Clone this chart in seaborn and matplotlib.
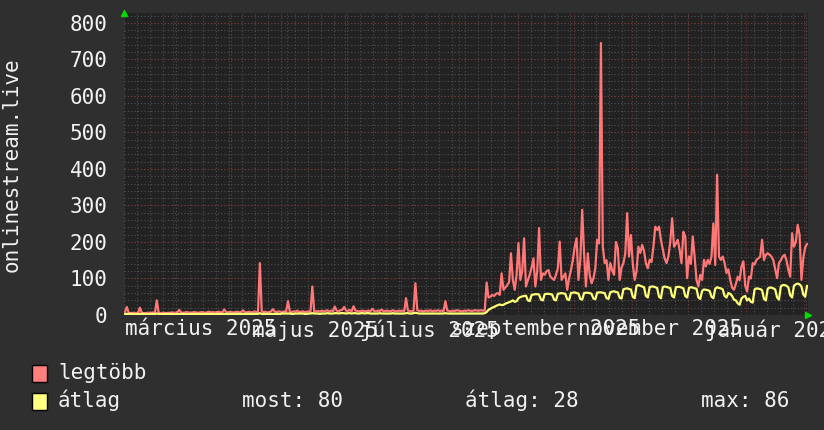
import matplotlib
matplotlib.use('Agg')
import matplotlib.pyplot as plt
from matplotlib.patches import Rectangle
import pandas as pd
import seaborn as sns

# napi értékek 2025-02-03-tól (hétfő), soronként egy hét
legtobb = [
    8, 22, 6, 5, 6, 6, 5,
    6, 20, 6, 5, 5, 6, 6,
    6, 7, 6, 40, 6, 5, 6,
    6, 5, 6, 6, 7, 6, 6,
    8, 14, 7, 6, 7, 8, 7,
    6, 7, 8, 7, 6, 7, 8,
    7, 6, 8, 9, 7, 8, 7,
    8, 9, 7, 8, 15, 8, 7,
    9, 8, 7, 8, 9, 7, 8,
    13, 8, 7, 9, 8, 7, 10,
    8, 9, 142, 10, 8, 9, 7,
    8, 10, 16, 9, 8, 10, 9,
    8, 10, 9, 38, 9, 8, 10,
    9, 12, 8, 9, 10, 8, 9,
    10, 9, 78, 9, 10, 11, 9,
    12, 10, 11, 13, 9, 12, 11,
    23, 12, 10, 13, 14, 22, 12,
    11, 14, 10, 24, 12, 11, 10,
    11, 12, 10, 11, 12, 10, 17,
    11, 10, 12, 11, 15, 10, 11,
    12, 10, 11, 13, 11, 10, 12,
    11, 12, 10, 46, 12, 11, 10,
    12, 87, 13, 11, 12, 10, 11,
    12, 11, 13, 10, 12, 11, 13,
    11, 12, 10, 38, 12, 11, 10,
    12, 11, 13, 12, 11, 10, 12,
    11, 13, 12, 11, 12, 13, 12,
    12, 13, 12, 12, 89, 48, 50,
    55, 52, 58, 60, 55, 114, 69,
    75, 82, 90, 169, 96, 69, 110,
    197, 96, 120, 210, 78, 95, 110,
    130, 155, 78, 120, 238, 96, 114,
    110, 120, 123, 105, 100, 96, 110,
    128, 201, 96, 105, 114, 69, 100,
    123, 150, 187, 210, 96, 150, 288,
    169, 78, 169, 110, 87, 100, 128,
    206, 196, 745, 187, 142, 150, 96,
    142, 123, 110, 200, 183, 96, 130,
    142, 169, 279, 160, 219, 140, 96,
    120, 187, 170, 192, 175, 142, 128,
    151, 145, 187, 242, 233, 242, 206,
    180, 155, 142, 160, 200, 265, 187,
    195, 206, 178, 142, 228, 215, 101,
    160, 140, 215, 160, 96, 78, 110,
    96, 151, 133, 151, 140, 160, 251,
    137, 384, 160, 151, 160, 142, 115,
    125, 96, 75, 69, 85, 105, 95,
    133, 147, 80, 64, 105, 100, 142,
    138, 151, 155, 160, 206, 150, 165,
    169, 165, 160, 150, 125, 101, 142,
    150, 160, 165, 150, 124, 105, 224,
    187, 200, 247, 220, 96, 156, 185,
    195,
]

atlag = [
    3, 3, 3, 3, 3, 2, 2,
    3, 3, 3, 3, 3, 2, 2,
    3, 3, 3, 4, 3, 2, 2,
    3, 3, 3, 3, 3, 2, 2,
    3, 3, 3, 3, 3, 2, 2,
    3, 3, 3, 3, 3, 3, 2,
    3, 3, 3, 3, 3, 3, 2,
    3, 3, 3, 3, 3, 3, 3,
    3, 3, 3, 3, 3, 3, 3,
    3, 3, 3, 3, 3, 3, 3,
    3, 3, 5, 3, 3, 3, 3,
    3, 3, 3, 3, 3, 3, 3,
    4, 4, 4, 4, 4, 3, 3,
    4, 4, 4, 4, 4, 3, 3,
    4, 4, 5, 4, 4, 4, 3,
    4, 4, 4, 5, 4, 4, 4,
    5, 5, 4, 5, 5, 5, 4,
    5, 5, 4, 5, 5, 4, 4,
    5, 5, 4, 5, 5, 4, 4,
    4, 4, 4, 5, 4, 4, 4,
    4, 4, 4, 5, 4, 4, 4,
    4, 4, 4, 5, 5, 4, 4,
    5, 6, 5, 4, 4, 4, 4,
    4, 4, 4, 4, 4, 4, 4,
    4, 4, 4, 5, 4, 4, 4,
    4, 4, 4, 4, 4, 4, 4,
    4, 4, 4, 4, 4, 4, 4,
    4, 4, 4, 5, 8, 14, 17,
    20, 22, 25, 27, 29, 27, 28,
    31, 33, 35, 37, 40, 36, 38,
    46, 49, 51, 52, 53, 40, 38,
    55, 56, 57, 57, 56, 42, 40,
    57, 58, 58, 57, 56, 42, 40,
    58, 59, 60, 59, 58, 43, 41,
    60, 61, 62, 60, 59, 44, 42,
    60, 61, 61, 60, 58, 45, 43,
    61, 62, 62, 61, 60, 46, 44,
    62, 64, 65, 63, 62, 47, 45,
    70, 72, 73, 71, 70, 50, 46,
    80, 82, 80, 78, 76, 52, 48,
    76, 78, 78, 76, 74, 50, 46,
    76, 78, 77, 75, 74, 52, 48,
    76, 77, 77, 75, 73, 52, 48,
    74, 76, 75, 73, 72, 48, 44,
    66, 70, 69, 68, 66, 50, 46,
    72, 76, 74, 73, 70, 52, 48,
    60, 58, 52, 42, 40, 32, 28,
    45, 50, 52, 40, 45, 36, 34,
    70, 73, 72, 71, 68, 44, 40,
    72, 75, 75, 73, 70, 48, 42,
    78, 82, 82, 80, 76, 54, 48,
    80, 84, 86, 84, 78, 56, 50,
    80,
]

start_date = '2025-02-03'
end_date = '2026-02-03'
tick_dates = ['2025-03-16', '2025-05-16', '2025-07-16', '2025-09-16', '2025-11-16', '2026-01-16']
tick_labels = ['március 2025', 'május 2025', 'július 2025', 'szeptember 2025', 'november 2025', 'január 2026']
stats = ['most: 80', 'átlag: 28', 'max: 86']

df = pd.DataFrame({
    'nap': pd.date_range(start_date, periods=len(legtobb), freq='D') + pd.Timedelta(hours=12),
    'legtöbb': legtobb,
    'átlag': atlag,
})

sns.set_style('dark')
plt.rcParams['font.family'] = ['DejaVu Sans Mono']

bg = '#2f2f2f'
canvas = '#222222'
red = '#ff7777'
yellow = '#ffff77'
txt = '#f2f2f2'

W, H = 824, 430
fig = plt.figure(figsize=(W / 100, H / 100), dpi=100, facecolor=bg)
ax = fig.add_axes([124 / W, 1 - 315 / H, 684 / W, 302 / H])
ax.set_facecolor(canvas)

# rács: szürke (heti / 20) és piros (havi / 100)
for d in pd.date_range(start_date, end_date, freq='7D'):
    ax.axvline(d, color='#505050', lw=0.8, ls=(0, (1, 2)), zorder=0.5)
for v in range(0, 830, 20):
    ax.axhline(v, color='#505050', lw=0.8, ls=(0, (1, 2)), zorder=0.5)
for d in pd.date_range('2025-03-01', end_date, freq='MS'):
    ax.axvline(d, color='#7a3535', lw=0.8, ls=(0, (1, 2)), zorder=0.6)
for v in range(0, 830, 100):
    ax.axhline(v, color='#7a3535', lw=0.8, ls=(0, (1, 2)), zorder=0.6)

sns.lineplot(data=df, x='nap', y='legtöbb', color=red, lw=1.6, ax=ax, zorder=3)
sns.lineplot(data=df, x='nap', y='átlag', color=yellow, lw=1.6, ax=ax, zorder=4)

ax.set_xlim(pd.Timestamp(start_date), pd.Timestamp(end_date))
ax.set_ylim(0, 827)
ax.set_yticks(range(0, 801, 100))
ax.set_xticks(pd.to_datetime(tick_dates))
ax.set_xticklabels(tick_labels)
ax.tick_params(axis='both', length=0, colors=txt, labelsize=15)
ax.tick_params(axis='y', pad=12)
ax.tick_params(axis='x', pad=3)
ax.set_xlabel('')
ax.set_ylabel('')
ax.grid(False)
for s in ax.spines.values():
    s.set_visible(False)

# zöld nyilak a tengelyek végén
ax.plot([0], [1.0], marker='^', ms=5, color='#00dd00', transform=ax.transAxes, clip_on=False)
ax.plot([1.0], [0], marker='>', ms=5, color='#00dd00', transform=ax.transAxes, clip_on=False)

fig.text(12 / W, 1 - 165 / H, 'onlinestream.live', rotation=90, ha='center', va='center',
         color=txt, fontsize=15)

# jelmagyarázat
for row, (name, col) in enumerate([('legtöbb', '#ff7f7f'), ('átlag', '#ffff80')]):
    top = 365 + row * 28
    fig.patches.append(Rectangle((32 / W, 1 - (top + 17) / H), 15 / W, 17 / H,
                                 transform=fig.transFigure, facecolor=col,
                                 edgecolor='black', lw=1))
    fig.text(58 / W, 1 - (top + 14) / H, name, color=txt, fontsize=15, va='baseline')

for x, s in zip([242, 465, 701], stats):
    fig.text(x / W, 1 - 407 / H, s, color=txt, fontsize=15, va='baseline')

fig.savefig('out.png', dpi=100, facecolor=bg)
